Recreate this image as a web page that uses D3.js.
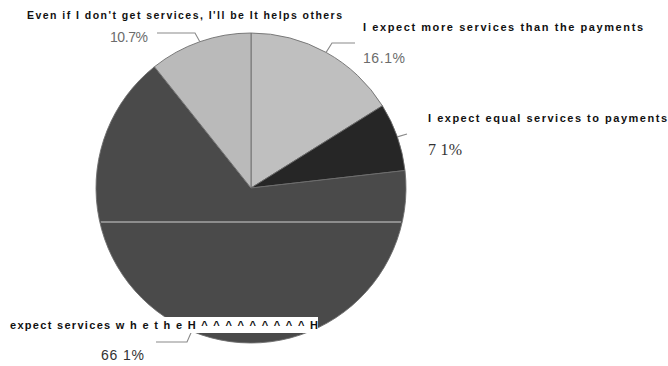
<!DOCTYPE html>
<html>
<head>
<meta charset="utf-8">
<script src="https://cdn.jsdelivr.net/npm/d3@7/dist/d3.min.js"></script>
<style>
  html, body { margin: 0; padding: 0; background: #fff; }
  svg { display: block; }
</style>
</head>
<body>
<svg id="chart" width="668" height="366"></svg>
<script>
// Survey answers and their shares (percent)
const categories = [
  "I expect more services than the payments",
  "I expect equal services to payments",
  "expect  services  w h e t h e H ^ ^ ^ ^ ^ ^ ^ ^ ^ H",
  "Even if I don't get services, I'll be It helps others"
];
const shares = [16.1, 7.1, 66.1, 10.7];
const shareLabels = ["16.1%", "7 1%", "66 1%", "10.7%"];
const sliceColors = ["#bfbfbf", "#262626", "#4a4a4a", "#bababa"];

const svg = d3.select("#chart");
const cx = 251, cy = 188, R = 155;

const pie = d3.pie().sort(null).value(d => d)(shares);
const arc = d3.arc().innerRadius(0).outerRadius(R);
const edge = d3.arc().innerRadius(R).outerRadius(R);

const g = svg.append("g").attr("transform", `translate(${cx},${cy})`);

g.selectAll("path.slice")
  .data(pie)
  .join("path")
  .attr("class", "slice")
  .attr("d", arc)
  .attr("fill", (d, i) => sliceColors[i])
  .attr("stroke", "#6e6e6e")
  .attr("stroke-width", 0.9);

// pale crease running across the lower half of the disc
g.append("clipPath").attr("id", "disc")
  .append("circle").attr("r", R - 1);
g.append("line")
  .attr("clip-path", "url(#disc)")
  .attr("x1", -R).attr("x2", R)
  .attr("y1", 34).attr("y2", 34)
  .attr("stroke", "#a4a4a4")
  .attr("stroke-width", 1.6);

const SANS = "'Liberation Sans', Arial, sans-serif";
const SERIF = "'Liberation Serif', 'Times New Roman', 'DejaVu Serif', serif";

// label layout: title line, share line, leader path
const layout = [
  { tx: 363, ty: 31, tw: 280, tsize: 11, px: 363, py: 63, pw: 42, pfont: SANS, psize: 14, pfill: "#6c6c6c",
    leader: p => [[p[0], p[1]], [332, 43], [355, 43]] },
  { tx: 428, ty: 122, tw: 239, tsize: 11, px: 428, py: 155, pw: 34, pfont: SERIF, psize: 16, pfill: "#333",
    leader: p => [[p[0], p[1]], [407, 134]] },
  { tx: 10, ty: 329, tw: 308, tsize: 11, px: 101, py: 360, pw: 43, pfont: SANS, psize: 14, pfill: "#333",
    leader: p => [[p[0], p[1]], [187, 342], [156, 342]] },
  { tx: 27, ty: 19, tw: 315, tsize: 10.5, px: 110, py: 42, pw: 38, pfont: SANS, psize: 14, pfill: "#6c6c6c",
    leader: p => [[p[0], p[1]], [195, 33], [157, 33]] }
];

const line = d3.line();
pie.forEach((d, i) => {
  const c = edge.centroid(d);
  const p = [c[0] + cx, c[1] + cy];
  svg.append("path")
    .attr("d", line(layout[i].leader(p)))
    .attr("fill", "none")
    .attr("stroke", "#8a8a8a")
    .attr("stroke-width", 1.1);
});

// white band behind the long bottom caption
svg.append("rect")
  .attr("x", 0).attr("y", 317)
  .attr("width", 318).attr("height", 16)
  .attr("fill", "#fff");

categories.forEach((name, i) => {
  const L = layout[i];
  svg.append("text")
    .attr("x", L.tx).attr("y", L.ty)
    .style("font-family", SANS)
    .attr("font-weight", "bold")
    .attr("font-size", L.tsize)
    .attr("fill", "#111")
    .attr("textLength", L.tw)
    .attr("lengthAdjust", "spacing")
    .text(name);
  svg.append("text")
    .attr("x", L.px).attr("y", L.py)
    .style("font-family", L.pfont)
    .attr("font-size", L.psize)
    .attr("fill", L.pfill)
    .attr("textLength", L.pw)
    .attr("lengthAdjust", "spacing")
    .text(shareLabels[i]);
});
</script>
</body>
</html>
